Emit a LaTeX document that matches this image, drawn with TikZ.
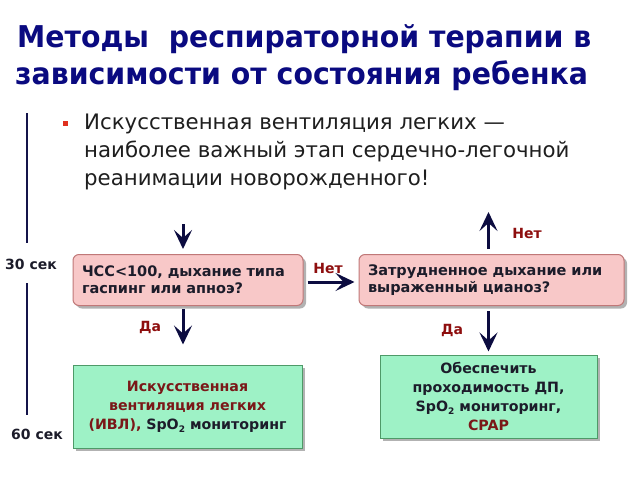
\documentclass[tikz,border=0pt]{standalone}
\usepackage{fontspec}
\setmainfont{DejaVu Sans}
\newfontfamily\titlefont[FakeStretch=0.945]{DejaVu Sans}
\usetikzlibrary{arrows.meta,shadows,calc}
\definecolor{titleblue}{HTML}{0A0A80}
\definecolor{bodygray}{HTML}{1E1E1E}
\definecolor{arrowblue}{HTML}{0C0C40}
\definecolor{lblred}{HTML}{8E0E0E}
\definecolor{boxred}{HTML}{7A1818}
\definecolor{boxtext}{HTML}{1C1C2A}
\definecolor{pinkfill}{HTML}{F8C8C8}
\definecolor{pinkborder}{HTML}{C07878}
\definecolor{greenfill}{HTML}{9EF2C6}
\definecolor{greenborder}{HTML}{4E9A68}
\definecolor{bulletred}{HTML}{E0301E}
\definecolor{linecol}{HTML}{14144A}
\newcommand{\sbtwo}{\raisebox{-0.4ex}{\fontsize{9}{9}\selectfont 2}}
\begin{document}
\begin{tikzpicture}[x=1pt,y=-1pt,
  titletext/.style={font=\titlefont\fontsize{30}{37}\selectfont\bfseries, text=titleblue, anchor=base west, inner sep=0},
  bodytext/.style={font=\fontsize{21.3}{28}\selectfont, text=bodygray, anchor=base west, inner sep=0},
  boxshadow/.style={drop shadow={shadow xshift=3pt, shadow yshift=-3pt, fill=black!55, opacity=0.55}},
  qbox/.style={draw=pinkborder, fill=pinkfill, rounded corners=6pt, line width=1pt, boxshadow,
    minimum height=51pt, font=\fontsize{14.5}{17}\selectfont\bfseries, text=boxtext, align=left, inner xsep=9pt},
  abox/.style={draw=greenborder, fill=greenfill, line width=1pt, boxshadow,
    font=\fontsize{14.2}{19}\selectfont\bfseries, text=boxtext, align=center, inner sep=0},
  arr/.style={draw=arrowblue, line width=3pt, -{Stealth[length=19pt,width=18pt,inset=8pt]}},
  lbl/.style={font=\fontsize{14}{16}\selectfont\bfseries, text=lblred, inner sep=0},
  tmark/.style={font=\fontsize{14}{16}\selectfont\bfseries, text=boxtext, inner sep=0},
  tline/.style={draw=linecol, line width=2pt}
]
\fill[white] (0,0) rectangle (640,480);
\useasboundingbox (0,0) rectangle (640,480);

% title
\node[titletext] (t1) at (17,47) {Методы\ \ респираторной терапии в};
\node[titletext] (t2) at (15,84) {зависимости от состояния ребенка};

% bullet text
\node[fill=bulletred, minimum size=5pt, inner sep=0] (bul) at (65.5,123.5) {};
\node[bodytext] (b1) at (84,129) {Искусственная вентиляция легких —};
\node[bodytext] (b2) at (84,157) {наиболее важный этап сердечно-легочной};
\node[bodytext] (b3) at (84,185) {реанимации новорожденного!};

% time line
\node[tmark] (s30) at (31,264) {30 сек};
\node[tmark] (s60) at (37,434) {60 сек};
\coordinate (ltop) at (27,113);
\coordinate (lmid1) at (27,243);
\coordinate (lmid2) at (27,283);
\coordinate (lbot) at (27,415);
\draw[tline] (ltop) -- (lmid1);
\draw[tline] (lmid2) -- (lbot);

% boxes
\node[qbox, text width=212pt] (box1) at (188,280) {ЧСС<100, дыхание типа\\гаспинг или апноэ?};
\node[qbox, text width=247pt] (box2) at (491.5,280) {Затрудненное дыхание или\\выраженный цианоз?};
\node[abox, minimum width=229pt, minimum height=83pt] (box3) at (187.5,406.5)
  {\textcolor{boxred}{Искусственная}\\\textcolor{boxred}{вентиляция легких}\\\textcolor{boxred}{(ИВЛ),} SpO\sbtwo{} мониторинг};
\node[abox, minimum width=217pt, minimum height=83pt] (box4) at (488.5,396.5)
  {Обеспечить\\проходимость ДП,\\SpO\sbtwo{} мониторинг,\\\textcolor{boxred}{CPAP}};

% arrows
\coordinate (in1) at (183,224);
\coordinate (up2) at (488.5,212);
\draw[arr, shorten >=5pt] (in1) -- (in1 |- box1.north);
\draw[arr, shorten <=3pt, shorten >=20pt] ([xshift=-5pt]box1.south) -- ([xshift=-4.5pt]box3.north);
\draw[arr, shorten <=4pt, shorten >=4pt] ([yshift=-2pt]box1.east) -- ([yshift=-2pt]box2.west);
\draw[arr, shorten <=5pt] ([xshift=-3pt]box2.north) -- (up2);
\draw[arr, shorten <=5pt, shorten >=3pt] ([xshift=-3pt]box2.south) -- (box4.north);

% labels
\node[lbl] (da1) at (150,327) {Да};
\node[lbl] (net1) at (328,268) {Нет};
\node[lbl] (net2) at (527,233) {Нет};
\node[lbl] (da2) at (452,330) {Да};
\end{tikzpicture}
\end{document}
